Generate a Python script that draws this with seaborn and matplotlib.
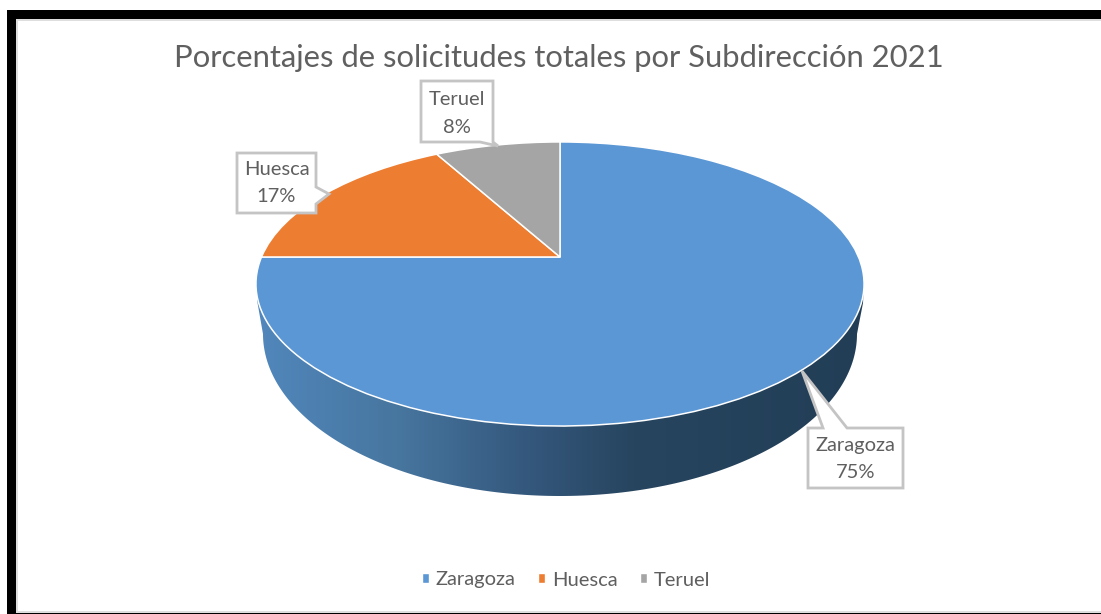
import numpy as np
import matplotlib
matplotlib.use("Agg")
import matplotlib.pyplot as plt
import seaborn as sns
from matplotlib.colors import LinearSegmentedColormap
from matplotlib.patches import Patch, Polygon, Rectangle
from matplotlib.transforms import Transform

# ---- data ----
categories = ["Zaragoza", "Huesca", "Teruel"]
shares = [75, 17, 8]
colors = ["#5B97D5", "#ED7D31", "#A5A5A5"]
title = "Porcentajes de solicitudes totales por Subdirección 2021"

sns.set_theme(style="white")
plt.rcParams["font.family"] = ["Lato", "DejaVu Sans"]
TEXT = "#5f5f5f"
BOX = "#c4c4c4"

W, H = 1101, 614
fig = plt.figure(figsize=(W / 100, H / 100), dpi=100, facecolor="white")
ax = fig.add_axes([0, 0, 1, 1])

# Perspective projection of the unit disc on to the canvas
CX, CY, K, A, B = 560.0, 257.0, 0.19, 298.5, 136.9


class Tilt(Transform):
    input_dims = output_dims = 2

    def transform_non_affine(self, xy):
        xy = np.asarray(xy, float)
        d = 1 + K * xy[:, 1]
        return np.column_stack((CX + A * xy[:, 0] / d, CY - B * xy[:, 1] / d))


# Pie top
wedges, _ = ax.pie(shares, colors=colors, startangle=90, counterclock=False,
                   radius=1, wedgeprops=dict(edgecolor="white", linewidth=1.1, zorder=3))
tilt = Tilt() + ax.transData
for w in wedges:
    w.set_transform(tilt)

# Side wall with horizontal gradient
t = np.linspace(np.pi, 0, 200)
wall_xy = np.vstack((
    [[257, 284], [257, 300]],
    np.column_stack((560 + 297 * np.cos(t), 334 + 162 * np.sin(t))),
    [[863, 303], [864, 284]],
))
wall = Polygon(wall_xy, closed=True, transform=ax.transData, facecolor="none", edgecolor="none")
ax.add_patch(wall)
wall_cmap = LinearSegmentedColormap.from_list("wall", [
    (0.00, "#5187BC"), (0.23, "#47769F"), (0.45, "#34577C"),
    (0.62, "#27455F"), (1.00, "#223E57")])
im = ax.imshow(np.linspace(0, 1, 256)[None, :], cmap=wall_cmap, aspect="auto",
               extent=(257, 864, 500, 280), zorder=1)
im.set_clip_path(wall)

# Callouts, one per category: Zaragoza, Huesca, Teruel
callouts = [
    [(808, 428), (823, 428), (802, 371), (847, 428), (903, 428), (903, 488), (808, 488)],
    [(237, 153), (316, 153), (316, 187), (329, 194), (316, 204), (316, 213), (237, 213)],
    [(421, 81), (493, 81), (493, 142), (498, 146), (480, 142), (421, 142)],
]
centres = [(855.5, 459), (276.5, 183), (457, 113.5)]
for poly, (cx, cy), name, v in zip(callouts, centres, categories, shares):
    ax.add_patch(Polygon(poly, closed=True, facecolor="white", edgecolor=BOX, linewidth=2,
                         zorder=4, joinstyle="miter"))
    ax.text(cx, cy, f"{name}\n{v}%", ha="center", va="center", color=TEXT, fontsize=14.5,
            linespacing=1.74, zorder=5)

ax.set_aspect("auto")
ax.set_xlim(0, W)
ax.set_ylim(H, 0)
ax.set_axis_off()

ax.text(558.5, 58, title, ha="center", va="center", color="#606060", fontsize=22.3, zorder=5)

ax.legend([Patch(facecolor=c) for c in colors], categories, ncols=3, frameon=False,
          loc="center", bbox_to_anchor=(566, 580), bbox_transform=ax.transData,
          fontsize=14.5, labelcolor=TEXT, handlelength=0.35, handleheight=0.4,
          handletextpad=0.35, columnspacing=1.1)

# Black frame fragments of the screenshot
for xy, w, h, c in [((16, 19), W - 16, 1.5, "#dedede"), ((16, 19), 1.5, H - 19, "#dedede"),
                    ((16, 611), W - 16, 1.5, "#dedede"),
                    ((7, 10), W - 7, 9, "black"), ((7, 10), 9, H - 10, "black"),
                    ((16, 612.7), W - 16, 1.3, "black")]:
    ax.add_patch(Rectangle(xy, w, h, facecolor=c, edgecolor="none", zorder=6))

fig.savefig("out.png", dpi=100, facecolor="white")
